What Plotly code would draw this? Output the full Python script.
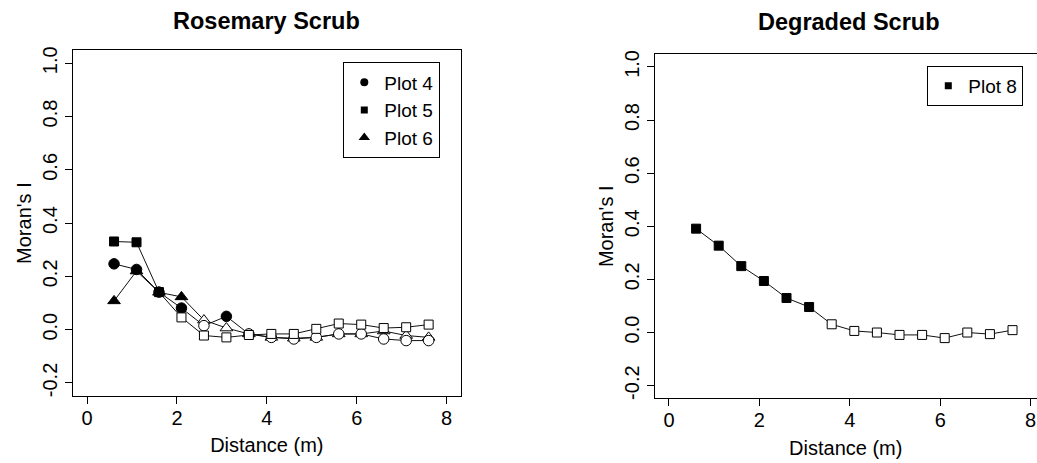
import plotly.graph_objects as go

# ---- data ----
distance = [0.6, 1.1, 1.6, 2.1, 2.6, 3.1, 3.6, 4.1, 4.6, 5.1, 5.6, 6.1, 6.6, 7.1, 7.6]

plot4 = [0.247, 0.226, 0.141, 0.081, 0.015, 0.050, -0.016, -0.029, -0.035, -0.029, -0.016, -0.016, -0.035, -0.041, -0.041]
plot4_sig = [1, 1, 1, 1, 0, 1, 0, 0, 0, 0, 0, 0, 0, 0, 0]
plot5 = [0.331, 0.328, 0.141, 0.046, -0.022, -0.029, -0.020, -0.016, -0.016, 0.003, 0.023, 0.019, 0.006, 0.009, 0.019]
plot5_sig = [1, 1, 1, 0, 0, 0, 0, 0, 0, 0, 0, 0, 0, 0, 0]
plot6 = [0.108, 0.220, 0.140, 0.123, 0.036, 0.006, -0.016, -0.029, -0.032, -0.029, -0.016, -0.016, -0.005, -0.022, -0.029]
plot6_sig = [1, 1, 1, 1, 0, 0, 0, 0, 0, 0, 0, 0, 0, 0, 0]

plot8 = [0.391, 0.327, 0.250, 0.194, 0.130, 0.096, 0.031, 0.006, 0.000, -0.009, -0.009, -0.021, 0.000, -0.006, 0.009]
plot8_sig = [1, 1, 1, 1, 1, 1, 0, 0, 0, 0, 0, 0, 0, 0, 0]

x_ticks = [0, 2, 4, 6, 8]
y_ticks = [-0.2, 0.0, 0.2, 0.4, 0.6, 0.8, 1.0]
y_ticktext = ["-0.2", "0.0", "0.2", "0.4", "0.6", "0.8", "1.0"]

FONT = "Liberation Sans, Arial, sans-serif"
W, H = 1037, 463


def fills(sig):
    return ["black" if s else "white" for s in sig]


fig = go.Figure()


def add_series(name, y, sig, symbol, size, xa, ya):
    fig.add_trace(go.Scatter(
        x=distance, y=y, mode="lines+markers", name=name,
        xaxis=xa, yaxis=ya, showlegend=False, cliponaxis=False,
        line=dict(color="#111111", width=1),
        marker=dict(symbol=symbol, size=size, color=fills(sig),
                    line=dict(color="black", width=1)),
    ))


# left panel (draw order so overlaps match)
add_series("Plot 6", plot6, plot6_sig, "triangle-up", 11, "x", "y")
add_series("Plot 4", plot4, plot4_sig, "circle", 10.5, "x", "y")
add_series("Plot 5", plot5, plot5_sig, "square", 9, "x", "y")
# right panel
add_series("Plot 8", plot8, plot8_sig, "square", 9, "x2", "y2")

# legend entries (marker only, like R legend)
for name, sym, sz, lg, xa, ya in [("Plot 4", "circle", 8, "legend", "x", "y"),
                                  ("Plot 5", "square", 7, "legend", "x", "y"),
                                  ("Plot 6", "triangle-up", 10, "legend", "x", "y"),
                                  ("Plot 8", "square", 7, "legend2", "x2", "y2")]:
    fig.add_trace(go.Scatter(
        x=[None], y=[None], mode="markers", name=name, xaxis=xa, yaxis=ya,
        legend=lg, showlegend=True,
        marker=dict(symbol=sym, size=sz, color="black"),
    ))

axis_common = dict(
    showline=True, linecolor="black", linewidth=1,
    ticks="outside", ticklen=7, tickwidth=1, tickcolor="black",
    showgrid=False, zeroline=False,
    tickfont=dict(family=FONT, size=20, color="black"),
)

xa_common = dict(axis_common, tickvals=x_ticks, ticklabelstandoff=-3,
                 title=dict(text="Distance (m)", font=dict(family=FONT, size=20, color="black"), standoff=10))
ya_common = dict(axis_common, tickvals=y_ticks, ticktext=y_ticktext, tickangle=-90,
                 range=[-0.248, 1.048],
                 title=dict(text="Moran's I", font=dict(family=FONT, size=20, color="black"), standoff=1))

left_x0, left_x1 = 72.7 / W, 461 / W
left_y0, left_y1 = (H - 396) / H, (H - 47) / H
right_x0, right_x1 = 654.5 / W, 1.0
right_y0, right_y1 = (H - 398.7) / H, (H - 50.7) / H

fig.update_layout(
    width=W, height=H,
    margin=dict(l=0, r=0, t=0, b=0),
    paper_bgcolor="white", plot_bgcolor="white",
    font=dict(family=FONT, size=20, color="black"),
    xaxis=dict(xa_common, domain=[left_x0, left_x1], range=[-0.32, 8.32], anchor="y", mirror=True),
    yaxis=dict(ya_common, domain=[left_y0, left_y1], anchor="x", mirror=True),
    xaxis2=dict(xa_common, domain=[right_x0, right_x1], range=[-0.32, (W - 669) / 45.2], anchor="y2", mirror=True),
    yaxis2=dict(ya_common, domain=[right_y0, right_y1], anchor="x2", mirror=False),
    legend=dict(x=343.3 / W, y=(H - 59) / H, xanchor="left", yanchor="top",
                bordercolor="black", borderwidth=1, bgcolor="white",
                font=dict(family=FONT, size=19, color="black"), tracegroupgap=0),
    legend2=dict(x=927.3 / W, y=(H - 62.7) / H, xanchor="left", yanchor="top",
                 bordercolor="black", borderwidth=1, bgcolor="white",
                 font=dict(family=FONT, size=19, color="black")),
    annotations=[
        dict(text="<b>Rosemary Scrub</b>", x=(left_x0 + left_x1) / 2, y=(H - 17) / H,
             xref="paper", yref="paper", showarrow=False, xanchor="center", yanchor="middle",
             font=dict(family=FONT, size=23.5, color="black")),
        dict(text="<b>Degraded Scrub</b>", x=849 / W, y=(H - 18) / H,
             xref="paper", yref="paper", showarrow=False, xanchor="center", yanchor="middle",
             font=dict(family=FONT, size=23.5, color="black")),
    ],
)

fig.write_html("out.html")
